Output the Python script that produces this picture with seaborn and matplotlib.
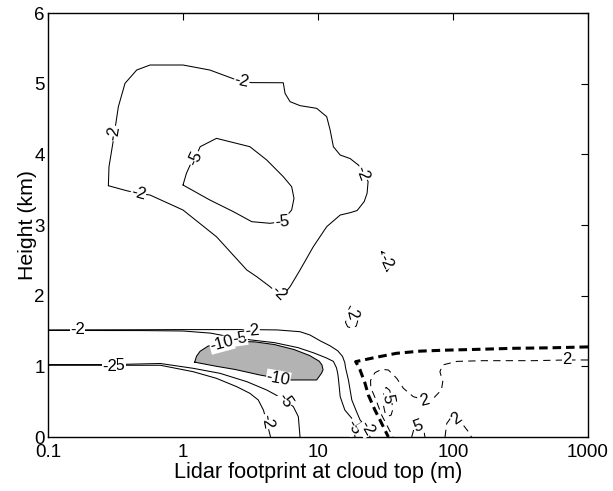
import matplotlib
matplotlib.use("Agg")
import matplotlib.pyplot as plt
import seaborn as sns

# Contour traces: lidar footprint at cloud top (m) vs height (km)
# Solid lines: negative contour levels; dashed: positive levels.

# -2 loop aloft
up2_fp = [0.280, 0.283, 0.305, 0.332, 0.372, 0.454, 0.570, 1.00, 1.58, 2.50, 3.20, 5.53,
          5.70, 6.21, 7.36, 9.77, 11.6, 12.3, 13.0, 14.6, 17.3, 19.9, 22.0, 23.5, 23.1,
          22.0, 19.5, 17.3, 14.6, 11.6, 9.23, 7.36, 6.21, 5.39, 4.41, 3.52, 2.97, 1.77,
          1.00, 0.570, 0.467, 0.383, 0.280]
up2_h = [3.556, 3.825, 4.203, 4.674, 5.005, 5.193, 5.264, 5.264, 5.193, 5.052, 5.015, 5.013,
         4.863, 4.745, 4.689, 4.651, 4.533, 4.344, 4.108, 3.990, 3.940, 3.849, 3.732, 3.614,
         3.449, 3.332, 3.205, 3.174, 3.141, 2.976, 2.693, 2.363, 2.127, 1.985, 2.127, 2.268,
         2.363, 2.834, 3.212, 3.424, 3.448, 3.485, 3.556]

# -5 loop aloft
in5_fp = [1.00, 1.06, 1.13, 1.23, 1.34, 1.77, 3.13, 4.17, 5.53, 6.38, 6.64, 6.38, 5.39,
          4.41, 3.23, 2.36, 1.58, 1.00]
in5_h = [3.566, 3.731, 3.849, 3.943, 4.108, 4.226, 4.108, 3.920, 3.684, 3.542, 3.377, 3.212,
         3.047, 3.024, 3.047, 3.189, 3.354, 3.566]

# small -2 cell near 30 m
cell2_fp = [29.6, 30.5, 32.3, 34.1, 33.7, 31.3, 29.6]
cell2_h = [2.622, 2.48, 2.339, 2.41, 2.528, 2.60, 2.622]

# upper branch of the low-level -2 and -5 contours
top2_fp = [0.1, 0.5, 1.0, 3.13, 5.0, 7.36, 8.73, 10.4, 12.3, 14.0, 15.2, 15.8, 16.0, 16.8,
           17.8, 19.3, 20.5, 23.0, 24.3]
top2_h = [1.515, 1.518, 1.52, 1.52, 1.515, 1.49, 1.443, 1.36, 1.29, 1.22, 1.14, 1.05, 0.98,
          0.807, 0.524, 0.358, 0.241, 0.123, 0.0]
top5_fp = [0.1, 0.5, 1.0, 1.6, 2.2, 2.64, 3.13, 4.76, 7.1, 9.3, 11.5, 13.0, 13.7, 14.0,
           14.2, 14.6, 15.8, 17.8, 18.3, 18.8]
top5_h = [1.508, 1.506, 1.50, 1.47, 1.42, 1.40, 1.375, 1.335, 1.265, 1.19, 1.12, 1.07, 0.98,
          0.90, 0.807, 0.571, 0.382, 0.264, 0.146, 0.0]

# lower branch of the low-level -2 and -5 contours
low2_fp = [0.1, 0.3, 0.68, 1.19, 1.77, 2.5, 3.13, 3.61, 3.94, 4.17, 4.45]
low2_h = [1.015, 1.015, 1.015, 0.924, 0.83, 0.712, 0.618, 0.524, 0.382, 0.217, 0.0]
low5_fp = [0.1, 0.3, 0.68, 1.19, 1.88, 2.97, 4.17, 5.7, 6.57, 7.15, 7.36]
low5_h = [1.025, 1.025, 1.04, 0.972, 0.901, 0.783, 0.665, 0.524, 0.429, 0.288, 0.0]

# -10 region (shaded)
core10_fp = [1.22, 1.26, 1.34, 1.53, 1.87, 2.44, 3.41, 4.76, 6.64, 8.67, 10.2, 10.7, 10.9,
             10.6, 9.77, 6.21, 5.08, 3.72, 2.44, 1.75, 1.22]
core10_h = [1.059, 1.144, 1.214, 1.285, 1.341, 1.355, 1.346, 1.308, 1.238, 1.153, 1.073,
            1.02, 0.95, 0.90, 0.807, 0.807, 0.83, 0.877, 0.955, 1.002, 1.059]

# boundary (thick dashed)
bound_fp = [1000, 520, 280, 150, 85, 57, 38, 25.7, 19.0, 19.5, 20.5, 22.3, 23.6, 26.4, 28.8, 33.2]
bound_h = [1.275, 1.262, 1.255, 1.24, 1.228, 1.215, 1.184, 1.12, 1.066, 1.03, 0.948, 0.76,
           0.594, 0.382, 0.24, 0.0]

# positive contours (thin dashed)
pos2_fp = [1000, 695, 392, 167, 107, 84, 80, 84, 82, 71.5, 62, 50.8, 42.9, 38.3, 33.2, 29.6,
           26.4, 24.5, 24.6, 26.9, 29.6, 35.9]
pos2_h = [1.09, 1.09, 1.08, 1.08, 1.07, 1.02, 0.924, 0.783, 0.665, 0.547, 0.524, 0.571, 0.689,
          0.830, 0.948, 0.958, 0.910, 0.80, 0.70, 0.524, 0.311, 0.0]
pos5_fp = [31.9, 34.0, 35.2, 35.7, 34.8, 33.2, 31.5, 30.5, 30.6, 31.9]
pos5_h = [0.703, 0.66, 0.524, 0.382, 0.31, 0.297, 0.33, 0.45, 0.62, 0.703]
pos5b_fp = [49.4, 51.5, 57, 60.5, 62]
pos5b_h = [0.0, 0.12, 0.2, 0.12, 0.0]
pos2b_fp = [87.3, 89.8, 97.7, 106, 119, 130, 137]
pos2b_h = [0.0, 0.19, 0.288, 0.27, 0.17, 0.075, 0.0]
pos2c_fp = [16.0, 16.6, 17.8, 19.2, 19.8, 19.0, 17.5, 16.3, 16.0]
pos2c_h = [1.62, 1.56, 1.54, 1.57, 1.66, 1.80, 1.86, 1.75, 1.62]

# contour labels (drawn in order; later labels sit on top of earlier ones)
lab_text = ["-2", "-2", "-2", "-2", "-2", "-5", "-5",
            "-2", "-10", "-5", "-2", "-5", "-2", "-10", "-5", "-2", "-5", "-2",
            "2", "2", "5", "5", "2", "2", "-2"]
lab_fp = [2.72, 0.305, 0.467, 21.3, 5.08, 1.23, 5.39,
          0.165, 1.94, 2.64, 3.25, 0.33, 0.285, 5.08, 5.7, 4.17, 18.3, 23.0,
          695, 62, 32.7, 55.3, 106, 17.7, 31.6]
lab_h = [5.03, 4.297, 3.448, 3.73, 2.033, 3.943, 3.047,
         1.515, 1.316, 1.40, 1.505, 1.01, 1.0, 0.83, 0.524, 0.217, 0.146, 0.123,
         1.09, 0.524, 0.54, 0.146, 0.264, 1.74, 2.48]
lab_rot = [-12, 82, -15, -70, -45, 65, 5,
           0, 15, 8, 5, 0, 0, -10, -55, -80, -60, -60,
           0, 15, -80, 20, 35, -75, -65]

sns.set_theme(style="white")
plt.rcParams["font.family"] = ["Liberation Sans", "DejaVu Sans"]

fig = plt.figure(figsize=(6.13, 4.91), dpi=100)
ax = fig.add_axes([48 / 613, 54 / 491, 540 / 613, 424 / 491])
ax.set_xscale("log")
ax.set_xlim(0.1, 1000)
ax.set_ylim(0, 6)

ax.fill(core10_fp, core10_h, color="#b3b3b3", lw=0, zorder=1)

thin = dict(color="black", lw=0.75, sort=False, estimator=None, ax=ax, zorder=2)
for fp, h in [(up2_fp, up2_h), (in5_fp, in5_h), (cell2_fp, cell2_h),
              (top2_fp, top2_h), (top5_fp, top5_h), (low2_fp, low2_h),
              (low5_fp, low5_h), (core10_fp, core10_h)]:
    sns.lineplot(x=fp, y=h, **thin)

for fp, h in [(pos2_fp, pos2_h), (pos5_fp, pos5_h), (pos5b_fp, pos5b_h),
              (pos2b_fp, pos2b_h), (pos2c_fp, pos2c_h)]:
    sns.lineplot(x=fp, y=h, linestyle=(0, (7, 5)), **thin)

sns.lineplot(x=bound_fp, y=bound_h, color="black", lw=2.2, linestyle=(0, (2.8, 1.6)),
             sort=False, estimator=None, ax=ax, zorder=3)

for i, (t, x, y, r) in enumerate(zip(lab_text, lab_fp, lab_h, lab_rot)):
    ax.text(x, y, t, rotation=r, ha="center", va="center", rotation_mode="anchor",
            fontsize=12, color="black", zorder=5 + 0.01 * i,
            bbox=dict(boxstyle="square,pad=0.02", fc="white", ec="none"))

ax.set_xticks([0.1, 1, 10, 100, 1000])
ax.set_xticklabels(["0.1", "1", "10", "100", "1000"])
ax.set_yticks([0, 1, 2, 3, 4, 5, 6])
ax.minorticks_off()
ax.tick_params(direction="in", length=5, width=0.8, top=True, right=True,
               labelsize=13.5, colors="black")
ax.tick_params(axis="x", pad=5)
ax.tick_params(axis="y", pad=2.5)
for s in ax.spines.values():
    s.set_color("black")
    s.set_linewidth(1.0)

ax.set_xlabel("Lidar footprint at cloud top (m)", fontsize=15.6, labelpad=1, color="black")
ax.set_ylabel("Height (km)", fontsize=15.3, color="black")
ax.yaxis.set_label_coords(-0.02, 0.5)
ax.set_facecolor("white")
fig.patch.set_facecolor("white")

fig.savefig("out.png", dpi=100)
